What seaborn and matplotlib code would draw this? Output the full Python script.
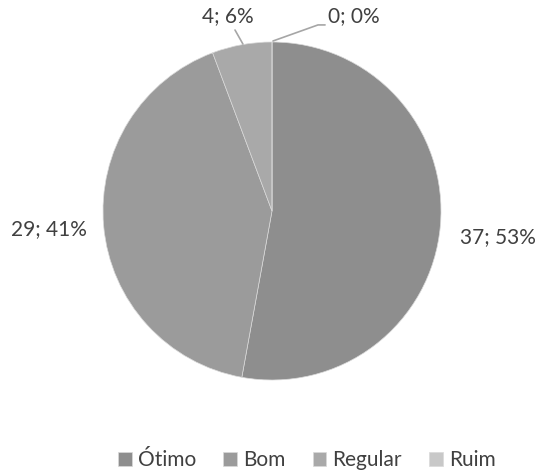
import matplotlib
matplotlib.use("Agg")
import matplotlib.pyplot as plt
import seaborn as sns

categories = ["Ótimo", "Bom", "Regular", "Ruim"]
counts = [37, 29, 4, 0]
percents = [53, 41, 6, 0]
colors = ["#8e8e8e", "#9b9b9b", "#a9a9a9", "#c8c8c8"]

sns.set_theme(style="white")
plt.rcParams["font.family"] = ["Lato", "DejaVu Sans"]

fig = plt.figure(figsize=(5.39, 4.73), dpi=100)
ax = fig.add_axes([103 / 539, 93 / 473, 338 / 539, 338 / 473])

wedges, _ = ax.pie(counts, colors=colors, startangle=90, counterclock=False,
                   radius=1, wedgeprops=dict(edgecolor="#d9d9d9", linewidth=0.5))
ax.set_xlim(-1, 1)
ax.set_ylim(-1, 1)
ax.set_aspect("equal")
ax.axis("off")

# label placement (axes data units), roughly like the original layout
label_pos = [(1.337, -0.154), (-1.320, -0.107), (-0.26, 1.154), (0.485, 1.154)]
txt_color = "#404040"
for (x, y), c, p in zip(label_pos, counts, percents):
    ax.text(x, y, f"{c}; {p}%", ha="center", va="center", fontsize=15,
            color=txt_color, clip_on=False)

# leader lines for the small slices
ax.plot([-0.172, -0.219], [0.988, 1.071], color="#a6a6a6", lw=1.2, clip_on=False)
ax.plot([0.006, 0.272, 0.314], [1.006, 1.101, 1.101], color="#a6a6a6", lw=1.2,
        clip_on=False)

fig.legend(wedges, categories, loc="center", bbox_to_anchor=(307 / 539, 13 / 473),
           ncol=4, frameon=False, fontsize=15, handlelength=0.65,
           handleheight=0.65, handletextpad=0.3, columnspacing=1.3,
           labelcolor=txt_color)

fig.savefig("out.png", dpi=100)
